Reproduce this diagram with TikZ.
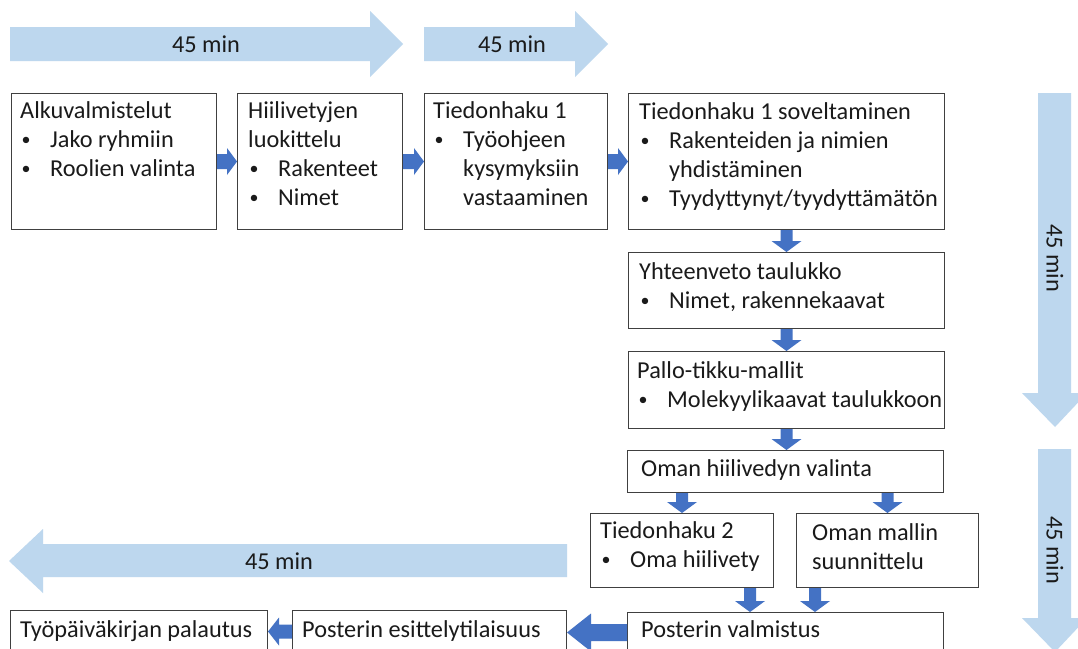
\documentclass[tikz,border=0pt]{standalone}
\usepackage{fontspec}
\setmainfont{Carlito}
\usetikzlibrary{calc}
\definecolor{dblue}{HTML}{4472C4}
\definecolor{lblue}{HTML}{BDD7EE}
\definecolor{boxline}{HTML}{404040}
\definecolor{txtc}{HTML}{1A1A1A}
\newcommand\bl[1]{\hspace*{1.5pt}\makebox[28.5pt][l]{\raisebox{1.5pt}{\fontsize{18}{18}\selectfont •}}#1}
\newcommand\ind[1]{\hspace*{30pt}#1}
% right-pointing block arrow: from #1 to #2, half body #3, half head #4, head length #5
\newcommand\rarr[5]{\fill[dblue] let \p1=#1, \p2=#2 in
  (\x1,\y1+#3) -- (\x2-#5,\y1+#3) -- (\x2-#5,\y1+#4) -- (\x2,\y1) -- (\x2-#5,\y1-#4) -- (\x2-#5,\y1-#3) -- (\x1,\y1-#3) -- cycle;}
\newcommand\larr[5]{\fill[dblue] let \p1=#1, \p2=#2 in
  (\x1,\y1+#3) -- (\x2+#5,\y1+#3) -- (\x2+#5,\y1+#4) -- (\x2,\y1) -- (\x2+#5,\y1-#4) -- (\x2+#5,\y1-#3) -- (\x1,\y1-#3) -- cycle;}
\newcommand\darr[5]{\fill[dblue] let \p1=#1, \p2=#2 in
  (\x1-#3,\y1) -- (\x1+#3,\y1) -- (\x1+#3,\y2+#5) -- (\x1+#4,\y2+#5) -- (\x1,\y2) -- (\x1-#4,\y2+#5) -- (\x1-#3,\y2+#5) -- cycle;}
\tikzset{
  box/.style={draw=boxline, line width=1pt, fill=white, inner sep=0pt, anchor=north west},
  txt/.style={anchor=base west, inner sep=0pt, text=txtc, font=\fontsize{24.3}{29}\selectfont},
  lbl/.style={inner sep=0pt, text=txtc, font=\fontsize{24.3}{29}\selectfont},
  big/.style={fill=lblue},
}
\begin{document}
\begin{tikzpicture}[x=1pt,y=-1pt]
\useasboundingbox (0,0) rectangle (1078,648);
\fill[white] (0,0) rectangle (1078,648);
\clip (0,0) rectangle (1078,648);

% light timing arrows
\fill[big] (10,27) -- (370,27) -- (370,11) -- (403,44) -- (370,77) -- (370,61) -- (10,61) -- cycle;
\node[lbl] (m1) at (206,44) {45 min};
\fill[big] (424,27) -- (575,27) -- (575,11) -- (608,44) -- (575,77) -- (575,61) -- (424,61) -- cycle;
\node[lbl] (m2) at (512,44) {45 min};
\fill[big] (1038,93) -- (1071,93) -- (1071,393) -- (1087,393) -- (1055,427) -- (1022,393) -- (1038,393) -- cycle;
\node[lbl, rotate=-90] (m3) at (1055,258) {45 min};
\fill[big] (1038,449) -- (1071,449) -- (1071,618) -- (1087,618) -- (1055,652) -- (1022,618) -- (1038,618) -- cycle;
\node[lbl, rotate=-90] (m4) at (1055,550) {45 min};
\fill[big] (567,544) -- (43,544) -- (43,529) -- (9,561) -- (43,593) -- (43,577) -- (567,577) -- cycle;
\node[lbl] (m5) at (279,561) {45 min};

% boxes
\node[box, minimum width=205pt, minimum height=136pt] (b1) at (11,93) {};
\node[box, minimum width=165pt, minimum height=136pt] (b2) at (237,93) {};
\node[box, minimum width=183pt, minimum height=136pt] (b3) at (424,93) {};
\node[box, minimum width=316pt, minimum height=136pt] (b4) at (628,93) {};
\node[box, minimum width=316pt, minimum height=76pt] (b5) at (628,252) {};
\node[box, minimum width=316pt, minimum height=77pt] (b6) at (628,351) {};
\node[box, minimum width=316pt, minimum height=42pt] (b7) at (627,450) {};
\node[box, minimum width=183pt, minimum height=74pt] (b8) at (590,513) {};
\node[box, minimum width=182pt, minimum height=74pt] (b9) at (796,513) {};
\node[box, minimum width=316pt, minimum height=40pt] (b10) at (627,612) {};
\node[box, minimum width=274pt, minimum height=42pt] (b11) at (292,610) {};
\node[box, minimum width=257pt, minimum height=42pt] (b12) at (10,610) {};

% texts
\node[txt] (t1) at ($(b1.north west)+(9,25)$) {\begin{tabular}[t]{@{}l@{}}Alkuvalmistelut\\ \bl{Jako ryhmiin}\\ \bl{Roolien valinta}\end{tabular}};
\node[txt] (t2) at ($(b2.north west)+(11,25)$) {\begin{tabular}[t]{@{}l@{}}Hiilivetyjen\\ luokittelu\\ \bl{Rakenteet}\\ \bl{Nimet}\end{tabular}};
\node[txt] (t3) at ($(b3.north west)+(9,25)$) {\begin{tabular}[t]{@{}l@{}}Tiedonhaku 1\\ \bl{Työohjeen}\\ \ind{kysymyksiin}\\ \ind{vastaaminen}\end{tabular}};
\node[txt] (t4) at ($(b4.north west)+(11,26)$) {\begin{tabular}[t]{@{}l@{}}Tiedonhaku 1 soveltaminen\\ \bl{Rakenteiden ja nimien}\\ \ind{yhdistäminen}\\ \bl{Tyydyttynyt/tyydyttämätön}\end{tabular}};
\node[txt] (t5) at ($(b5.north west)+(11,27)$) {\begin{tabular}[t]{@{}l@{}}Yhteenveto taulukko\\ \bl{Nimet, rakennekaavat}\end{tabular}};
\node[txt] (t6) at ($(b6.north west)+(9,27)$) {\begin{tabular}[t]{@{}l@{}}Pallo-tikku-mallit\\ \bl{Molekyylikaavat taulukkoon}\end{tabular}};
\node[txt] (t7) at ($(b7.north west)+(14,26)$) {Oman hiilivedyn valinta};
\node[txt] (t8) at ($(b8.north west)+(10,25)$) {\begin{tabular}[t]{@{}l@{}}Tiedonhaku 2\\ \bl{Oma hiilivety}\end{tabular}};
\node[txt] (t9) at ($(b9.north west)+(16,27)$) {\begin{tabular}[t]{@{}l@{}}Oman mallin\\ suunnittelu\end{tabular}};
\node[txt] (t10) at ($(b10.north west)+(14,25)$) {Posterin valmistus};
\node[txt] (t11) at ($(b11.north west)+(10,27)$) {Posterin esittelytilaisuus};
\node[txt] (t12) at ($(b12.north west)+(10,27)$) {Työpäiväkirjan palautus};

% connectors
\rarr{(b1.east)}{(b2.west)}{7.5pt}{13.5pt}{10pt}
\rarr{(b2.east)}{(b3.west)}{7.5pt}{13.5pt}{10pt}
\rarr{(b3.east)}{(b4.west)}{7.5pt}{13.5pt}{10pt}
\darr{(b4.south)}{(b5.north)}{6pt}{15pt}{11pt}
\darr{(b5.south)}{(b6.north)}{6pt}{15pt}{11pt}
\darr{(b6.south)}{(b7.north)}{6pt}{15pt}{11pt}
\darr{(b7.south -| b8.north)}{(b8.north)}{6pt}{15pt}{11pt}
\darr{(b7.south -| b9.north)}{(b9.north)}{6pt}{15pt}{11pt}
\coordinate (c1) at ($(b8.south east)+(-24,0)$);
\coordinate (c2) at ($(b9.south west)+(19,0)$);
\darr{(c1)}{(c1 |- b10.north)}{6pt}{15pt}{11pt}
\darr{(c2)}{(c2 |- b10.north)}{6pt}{15pt}{11pt}
\larr{(b10.west)}{(b11.east)}{8.5pt}{19pt}{24pt}
\larr{(b11.west)}{(b12.east)}{7pt}{14pt}{11pt}
\end{tikzpicture}
\end{document}
